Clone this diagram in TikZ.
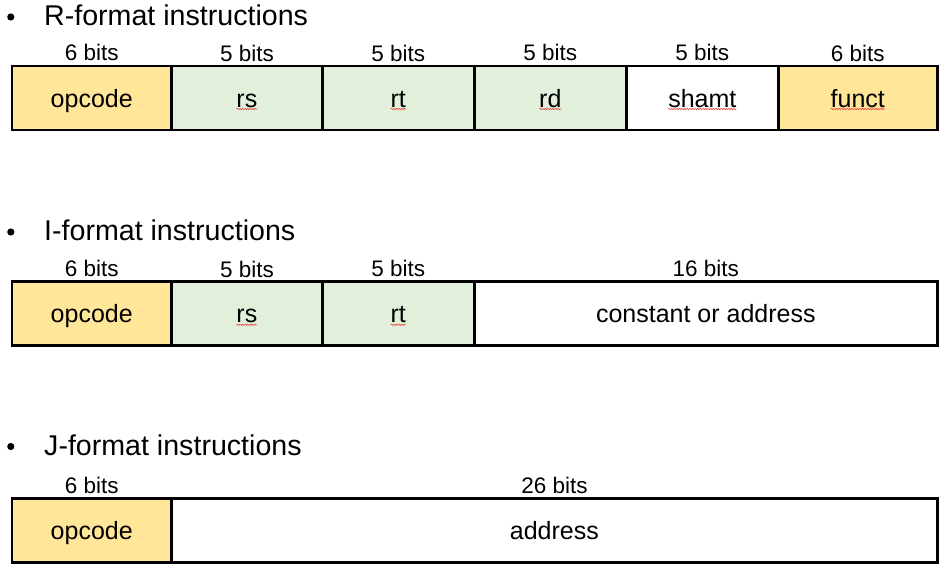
\documentclass[tikz,border=0pt]{standalone}
\usepackage{fontspec}
\setmainfont{Liberation Sans}
\usepackage{tikz}
\usetikzlibrary{calc,decorations.pathmorphing}
\definecolor{opfill}{HTML}{FFE699}
\definecolor{regfill}{HTML}{E2EFDA}
\definecolor{typored}{HTML}{E8443A}
\tikzset{
  field/.style={draw=black, line width=2.8pt, minimum height=64pt, inner sep=0pt,
    text height=22pt, text depth=4pt, font=\fontsize{25}{28}\selectfont},
  bits/.style={anchor=base, inner sep=0pt, font=\fontsize{22.5}{24}\selectfont},
  head/.style={anchor=base west, inner sep=0pt, font=\fontsize{28.6}{31}\selectfont},
  bullet/.style={circle, fill=black, inner sep=0pt, minimum size=7.2pt},
  squiggle/.style={draw=typored, line width=0.6pt, decorate,
    decoration={snake, amplitude=0.7pt, segment length=2.6pt}},
}

\begin{document}
\begin{tikzpicture}[x=1pt,y=-1pt]
  \useasboundingbox (0,0) rectangle (945,568);

  % R-format
  \node[bullet] (Rdot) at (10.8,17) {};
  \node[head] (Rhead) at (44,25.7) {R-format instructions};
  \node[field,fill=opfill,minimum width=159.5pt] (Rop) at (91.75,98) {opcode};
  \node[field,fill=regfill,minimum width=150.8pt] (Rrs) at (246.9,98) {rs};
  \node[field,fill=regfill,minimum width=152pt] (Rrt) at (398.3,98) {rt};
  \node[field,fill=regfill,minimum width=152pt] (Rrd) at (550.3,98) {rd};
  \node[field,fill=white,minimum width=152pt] (Rshamt) at (702.3,98) {shamt};
  \node[field,fill=opfill,minimum width=159pt] (Rfunct) at (857.8,98) {funct};
  \node[bits] (Rbop) at (91.75,60) {6 bits};
  \node[bits] (Rbrs) at (246.9,61) {5 bits};
  \node[bits] (Rbrt) at (398.3,61) {5 bits};
  \node[bits] (Rbrd) at (550.3,60) {5 bits};
  \node[bits] (Rbshamt) at (702.3,60) {5 bits};
  \node[bits] (Rbfunct) at (857.8,61) {6 bits};
  \draw[squiggle] ($(Rrs)+(-10.4,11)$) -- +(20.8,0);
  \draw[squiggle] ($(Rrt)+(-7.6,11)$) -- +(15.3,0);
  \draw[squiggle] ($(Rrd)+(-11.1,11)$) -- +(22.2,0);
  \draw[squiggle] ($(Rshamt)+(-34,11)$) -- +(68,0);
  \draw[squiggle] ($(Rfunct)+(-27.1,11)$) -- +(54.2,0);

  % I-format
  \node[bullet] (Idot) at (10.8,232) {};
  \node[head] (Ihead) at (44,240.5) {I-format instructions};
  \node[field,fill=opfill,minimum width=159.5pt] (Iop) at (91.75,313.8) {opcode};
  \node[field,fill=regfill,minimum width=150.8pt] (Irs) at (246.9,313.8) {rs};
  \node[field,fill=regfill,minimum width=152pt] (Irt) at (398.3,313.8) {rt};
  \node[field,fill=white,minimum width=463pt] (Iconst) at (705.8,313.8) {constant or address};
  \node[bits] (Ibop) at (91.75,276.5) {6 bits};
  \node[bits] (Ibrs) at (246.9,277.5) {5 bits};
  \node[bits] (Ibrt) at (398.3,276.5) {5 bits};
  \node[bits] (Ibconst) at (705.8,276.5) {16 bits};
  \draw[squiggle] ($(Irs)+(-10.4,11)$) -- +(20.8,0);
  \draw[squiggle] ($(Irt)+(-7.6,11)$) -- +(15.3,0);

  % J-format
  \node[bullet] (Jdot) at (10.8,446.5) {};
  \node[head] (Jhead) at (44,455) {J-format instructions};
  \node[field,fill=opfill,minimum width=159.5pt] (Jop) at (91.75,530.8) {opcode};
  \node[field,fill=white,minimum width=765.8pt] (Jaddr) at (554.4,530.8) {address};
  \node[bits] (Jbop) at (91.75,493.5) {6 bits};
  \node[bits] (Jbaddr) at (554.4,493.5) {26 bits};
\end{tikzpicture}
\end{document}
